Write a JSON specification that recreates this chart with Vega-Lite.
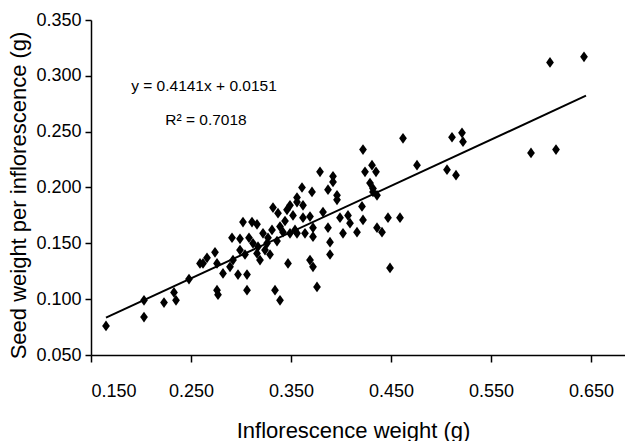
{
  "$schema": "https://vega.github.io/schema/vega-lite/v6.json",
  "width": 534,
  "height": 335,
  "autosize": {"type": "none"},
  "padding": {"left": 91, "top": 20, "right": 0, "bottom": 86},
  "background": "white",
  "config": {
    "view": {"stroke": null},
    "axis": {
      "grid": false,
      "domainColor": "black",
      "domainWidth": 1.5,
      "tickColor": "black",
      "tickWidth": 1.5,
      "labelColor": "black",
      "titleColor": "black",
      "labelFont": "Liberation Sans",
      "labelFontSize": 18,
      "titleFont": "Liberation Sans",
      "titleFontSize": 22,
      "titleFontWeight": "normal"
    }
  },
  "datasets": {
    "points": [
      {"x": 0.165, "y": 0.076}, {"x": 0.203, "y": 0.099}, {"x": 0.203, "y": 0.084}, {"x": 0.223, "y": 0.097},
      {"x": 0.233, "y": 0.106}, {"x": 0.235, "y": 0.099}, {"x": 0.248, "y": 0.118}, {"x": 0.259, "y": 0.132},
      {"x": 0.262, "y": 0.132}, {"x": 0.266, "y": 0.137}, {"x": 0.274, "y": 0.142}, {"x": 0.276, "y": 0.132},
      {"x": 0.282, "y": 0.123}, {"x": 0.276, "y": 0.108}, {"x": 0.277, "y": 0.104}, {"x": 0.291, "y": 0.155},
      {"x": 0.299, "y": 0.154}, {"x": 0.308, "y": 0.155}, {"x": 0.302, "y": 0.169}, {"x": 0.311, "y": 0.169},
      {"x": 0.316, "y": 0.167}, {"x": 0.292, "y": 0.135}, {"x": 0.299, "y": 0.144}, {"x": 0.289, "y": 0.129},
      {"x": 0.297, "y": 0.122}, {"x": 0.306, "y": 0.122}, {"x": 0.306, "y": 0.108}, {"x": 0.316, "y": 0.141},
      {"x": 0.319, "y": 0.135}, {"x": 0.324, "y": 0.144}, {"x": 0.322, "y": 0.159}, {"x": 0.327, "y": 0.155},
      {"x": 0.331, "y": 0.162}, {"x": 0.332, "y": 0.182}, {"x": 0.337, "y": 0.177}, {"x": 0.339, "y": 0.165},
      {"x": 0.346, "y": 0.180}, {"x": 0.349, "y": 0.184}, {"x": 0.356, "y": 0.187}, {"x": 0.354, "y": 0.162},
      {"x": 0.347, "y": 0.132}, {"x": 0.334, "y": 0.108}, {"x": 0.339, "y": 0.099}, {"x": 0.326, "y": 0.150},
      {"x": 0.317, "y": 0.147}, {"x": 0.304, "y": 0.140}, {"x": 0.312, "y": 0.150}, {"x": 0.329, "y": 0.140},
      {"x": 0.336, "y": 0.152}, {"x": 0.342, "y": 0.160}, {"x": 0.344, "y": 0.170},
      {"x": 0.422, "y": 0.234}, {"x": 0.431, "y": 0.220}, {"x": 0.424, "y": 0.214}, {"x": 0.435, "y": 0.214},
      {"x": 0.429, "y": 0.204}, {"x": 0.432, "y": 0.196}, {"x": 0.379, "y": 0.214}, {"x": 0.392, "y": 0.210},
      {"x": 0.392, "y": 0.205}, {"x": 0.361, "y": 0.200}, {"x": 0.371, "y": 0.196}, {"x": 0.356, "y": 0.191},
      {"x": 0.387, "y": 0.198}, {"x": 0.396, "y": 0.193}, {"x": 0.396, "y": 0.189}, {"x": 0.362, "y": 0.184},
      {"x": 0.369, "y": 0.174}, {"x": 0.382, "y": 0.178}, {"x": 0.352, "y": 0.175}, {"x": 0.362, "y": 0.173},
      {"x": 0.399, "y": 0.173}, {"x": 0.407, "y": 0.175}, {"x": 0.421, "y": 0.183}, {"x": 0.409, "y": 0.168},
      {"x": 0.422, "y": 0.171}, {"x": 0.436, "y": 0.164}, {"x": 0.416, "y": 0.160}, {"x": 0.402, "y": 0.159},
      {"x": 0.387, "y": 0.164}, {"x": 0.372, "y": 0.164}, {"x": 0.372, "y": 0.156}, {"x": 0.389, "y": 0.151},
      {"x": 0.364, "y": 0.159}, {"x": 0.356, "y": 0.159}, {"x": 0.349, "y": 0.159}, {"x": 0.389, "y": 0.140},
      {"x": 0.369, "y": 0.135}, {"x": 0.372, "y": 0.129}, {"x": 0.376, "y": 0.111},
      {"x": 0.462, "y": 0.244}, {"x": 0.511, "y": 0.245}, {"x": 0.521, "y": 0.249}, {"x": 0.522, "y": 0.241},
      {"x": 0.476, "y": 0.220}, {"x": 0.506, "y": 0.216}, {"x": 0.515, "y": 0.211}, {"x": 0.432, "y": 0.199},
      {"x": 0.436, "y": 0.193}, {"x": 0.447, "y": 0.173}, {"x": 0.459, "y": 0.173}, {"x": 0.441, "y": 0.160},
      {"x": 0.449, "y": 0.128},
      {"x": 0.609, "y": 0.312}, {"x": 0.643, "y": 0.317}, {"x": 0.590, "y": 0.231}, {"x": 0.615, "y": 0.234}
    ],
    "fit": [
      {"x": 0.165, "y": 0.0834},
      {"x": 0.645, "y": 0.2822}
    ],
    "labels": [
      {"x": 0.263, "y": 0.2866, "label": "y = 0.4141x + 0.0151"},
      {"x": 0.265, "y": 0.256, "label": "R² = 0.7018"}
    ]
  },
  "encoding": {
    "x": {
      "field": "x",
      "type": "quantitative",
      "scale": {"domain": [0.15, 0.684], "nice": false, "zero": false},
      "axis": {
        "title": "Inflorescence weight (g)",
        "values": [0.15, 0.25, 0.35, 0.45, 0.55, 0.65],
        "format": ".3f",
        "tickSize": 7,
        "labelPadding": 20,
        "titleBaseline": "alphabetic",
        "titleY": 82,
        "titleX": 262
      }
    },
    "y": {
      "field": "y",
      "type": "quantitative",
      "scale": {"domain": [0.05, 0.35], "nice": false, "zero": false},
      "axis": {
        "title": "Seed weight per inflorescence (g)",
        "values": [0.05, 0.1, 0.15, 0.2, 0.25, 0.3, 0.35],
        "format": ".3f",
        "tickSize": 6,
        "labelPadding": 4,
        "titleAngle": -90,
        "titleBaseline": "alphabetic",
        "titleX": -66,
        "titleY": 175
      }
    }
  },
  "layer": [
    {
      "data": {"name": "fit"},
      "mark": {"type": "line", "color": "black", "strokeWidth": 2},
      "encoding": {}
    },
    {
      "data": {"name": "points"},
      "mark": {"type": "point", "filled": true, "shape": "M0,-1L0.72,0L0,1L-0.72,0Z", "size": 115, "color": "black", "opacity": 1},
      "encoding": {}
    },
    {
      "data": {"name": "labels"},
      "mark": {"type": "text", "font": "Liberation Sans", "fontSize": 15.5, "align": "center", "baseline": "alphabetic", "color": "black"},
      "encoding": {"text": {"field": "label"}}
    }
  ]
}
